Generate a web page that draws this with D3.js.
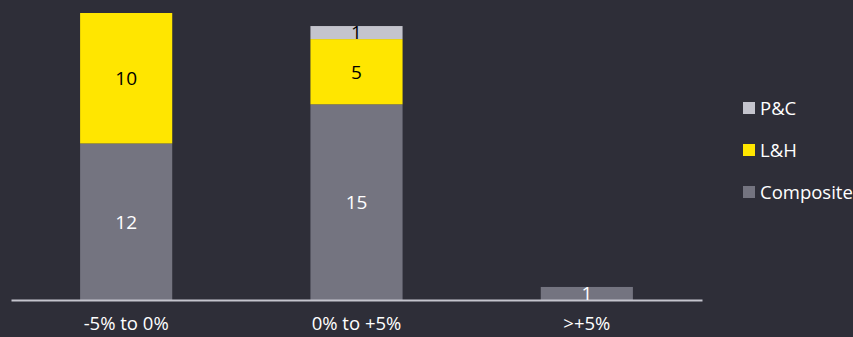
<!DOCTYPE html>
<html>
<head>
<meta charset="utf-8">
<script src="https://cdn.jsdelivr.net/npm/d3@7"></script>
<style>
  body { margin: 0; background: #2e2e38; }
  svg { display: block; }
  text { font-family: "Open Sans", "Noto Sans", sans-serif; }
</style>
</head>
<body>
<div id="canvas"></div>
<script>
const categories = ["-5% to 0%", "0% to +5%", ">+5%"];
const composite = [12, 15, 1];
const lh = [10, 5, 0];
const pc = [0, 1, 0];
const seriesNames = ["Composite", "L&H", "P&C"];
const colors = { "Composite": "#747480", "L&H": "#ffe600", "P&C": "#c4c4cd" };
const labelColors = { "Composite": "#ffffff", "L&H": "#000000", "P&C": "#000000" };

const width = 853;
const height = 337;
const margin = { top: 13, left: 11, bottom: 37, right: 151 };
const iwidth = width - margin.left - margin.right;
const iheight = height - margin.top - margin.bottom;

const svg = d3.select("#canvas").append("svg")
    .attr("width", width)
    .attr("height", height);

const g = svg.append("g").attr("transform", `translate(${margin.left},${margin.top})`);

const data = categories.map((c, i) => ({
    cat: c, "Composite": composite[i], "L&H": lh[i], "P&C": pc[i]
}));

const stack = d3.stack().keys(seriesNames)(data);

const x = d3.scaleBand()
    .range([0, iwidth])
    .domain(categories)
    .paddingInner(0.6)
    .paddingOuter(0.3);

const y = d3.scaleLinear()
    .range([iheight, 0])
    .domain([0, 22]);

const layers = g.selectAll("g.layer").data(stack).enter().append("g")
    .attr("class", "layer");

layers.selectAll("rect")
    .data(d => d.filter(p => p[1] - p[0] > 0))
    .enter().append("rect")
    .attr("x", d => x(d.data.cat))
    .attr("y", d => y(d[1]))
    .attr("width", x.bandwidth())
    .attr("height", d => y(d[0]) - y(d[1]))
    .style("fill", function () { return colors[d3.select(this.parentNode).datum().key]; });

// axis line
const xAxis = g.append("g")
    .attr("transform", `translate(0, ${iheight})`)
    .call(d3.axisBottom(x).tickSize(0).tickPadding(17));
xAxis.select(".domain").attr("stroke", "#c4c4cd").attr("stroke-width", 2);
xAxis.selectAll("text")
    .style("font-size", "18.5px")
    .style("font-family", "'Open Sans', 'Noto Sans', sans-serif")
    .attr("fill", "#ffffff");

// value labels, drawn after the axis so the >+5% label sits over the line
layers.each(function (s) {
    g.selectAll(null)
        .data(s.filter(p => p[1] - p[0] > 0))
        .enter().append("text")
        .attr("x", d => x(d.data.cat) + x.bandwidth() / 2)
        .attr("y", d => (y(d[0]) + y(d[1])) / 2)
        .attr("dy", "0.36em")
        .attr("text-anchor", "middle")
        .style("font-size", "19px")
        .style("fill", labelColors[s.key])
        .text(d => d[1] - d[0]);
});

// legend
const legend = svg.append("g").attr("transform", "translate(743, 108)");
const legendOrder = ["P&C", "L&H", "Composite"];
const items = legend.selectAll("g").data(legendOrder).enter().append("g")
    .attr("transform", (d, i) => `translate(0, ${i * 42})`);
items.append("rect")
    .attr("x", 0)
    .attr("y", -6)
    .attr("width", 12)
    .attr("height", 12)
    .style("fill", d => colors[d]);
items.append("text")
    .attr("x", 17)
    .attr("y", 0)
    .attr("dy", "0.36em")
    .style("font-size", "18.5px")
    .style("fill", "#ffffff")
    .text(d => d);
</script>
</body>
</html>
